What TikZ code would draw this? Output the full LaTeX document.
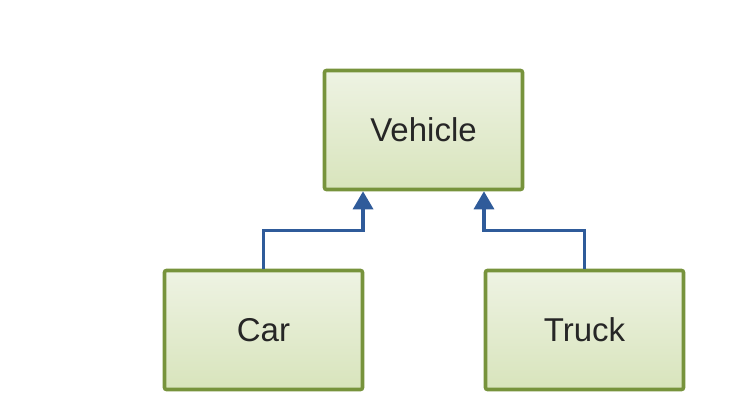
\documentclass[tikz,border=0pt]{standalone}
\usepackage{fontspec}
\setmainfont{Liberation Sans}
\usepackage{tikz}
\usetikzlibrary{arrows.meta, calc, positioning}

\definecolor{boxline}{HTML}{77933C}
\definecolor{boxtop}{HTML}{EEF3E3}
\definecolor{boxbottom}{HTML}{D8E4BC}
\definecolor{linkblue}{HTML}{2F5B9A}

\begin{document}
\begin{tikzpicture}[x=1pt, y=1pt,
	classbox/.style={draw=boxline, line width=3.6pt, rounded corners=2pt,
		top color=boxtop, bottom color=boxbottom,
		minimum width=198pt, minimum height=119pt, inner sep=0pt,
		text=black!85, font=\fontsize{33}{40}\selectfont},
	inherit/.style={draw=linkblue, line width=3.4pt,
		-{Triangle[width=20pt, length=18pt]}}]
	\useasboundingbox (0,0) rectangle (740,416);
	
	\node[classbox] (vehicle) at (423.5,286) {Vehicle};
	\node[classbox] (car) at (263.5,86) {Car};
	\node[classbox] (truck) at (584.5,86) {Truck};
	
	\coordinate (carin) at ($(vehicle.south west)!0.2!(vehicle.south east)$);
	\coordinate (truckin) at ($(vehicle.south west)!0.8!(vehicle.south east)$);
	
	\draw[inherit] (car.north) -- ++(0,38) -| (carin);
	\draw[inherit] (truck.north) -- ++(0,38) -| (truckin);
\end{tikzpicture}
\end{document}
